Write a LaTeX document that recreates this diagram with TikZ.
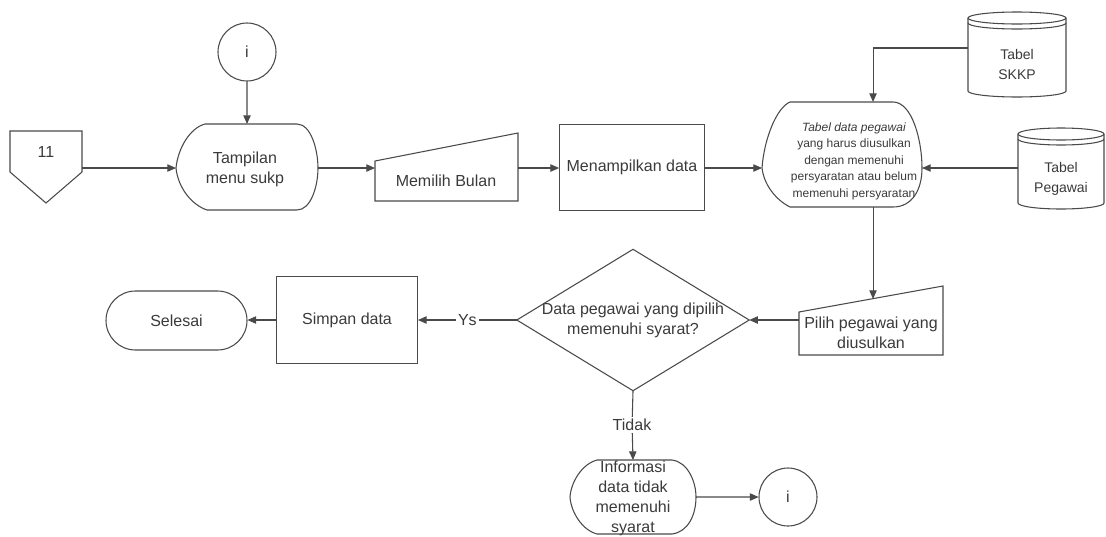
\documentclass[tikz,border=0pt]{standalone}
\usepackage{fontspec}
\setmainfont{Liberation Sans}
\usetikzlibrary{arrows.meta,shapes.misc}
\definecolor{InkGray}{HTML}{3A3A3A}
\definecolor{LineGray}{HTML}{4A4A4A}

\begin{document}
\begin{tikzpicture}[x=1pt, y=-1pt, scale=0.75,
    every node/.style={transform shape, text=InkGray},
    line/.style={draw=LineGray, line width=0.8pt},
    arr/.style={line, -{Triangle[length=6.5pt,width=5.5pt]}},
    txt/.style={align=center, inner sep=1pt, font=\fontsize{16}{20}\selectfont},
    smalltxt/.style={align=center, inner sep=1pt, font=\fontsize{14}{20}\selectfont},
    tinytxt/.style={align=center, inner sep=1pt, font=\fontsize{12}{16.5}\selectfont},
    conn/.style={txt, circle, line, minimum size=58},
    procbox/.style={txt, rectangle, line, minimum height=86},
    term/.style={txt, rounded rectangle, line, minimum width=143, minimum height=59}]
    \useasboundingbox (0,0) rectangle (1106,536);

    % Connectors i
    \node[conn] (i1) at (247,52) {i};
    \node[conn] (i2) at (788,497) {i};

    % Off-page 11
    \node[txt] (off) at (46,152) {11};
    \draw[line] (10,131) -- (82,131) -- (82,172) -- (46,203) -- (10,172) -- cycle;
    \coordinate (off-e) at (82,168);

    % Display: Tampilan menu sukp
    \node[txt] (tampil) at (245,169) {Tampilan\\menu sukp};
    \draw[line] (205,124) -- (297,124) .. controls (311,124) and (318,150) .. (318,168)
        .. controls (318,186) and (311,210) .. (297,210) -- (207,210)
        .. controls (192,205) and (178,188) .. (176,168)
        .. controls (178,148) and (190,128) .. (205,124) -- cycle;
    \coordinate (tampil-w) at (176,168);
    \coordinate (tampil-e) at (318,168);
    \coordinate (tampil-n) at (247,124);

    % Manual input: Memilih Bulan
    \node[txt] (memilih) at (446,181) {Memilih Bulan};
    \draw[line] (375,161) -- (518,133) -- (518,201) -- (375,201) -- cycle;
    \coordinate (memilih-w) at (375,168);
    \coordinate (memilih-e) at (518,168);

    % Process: Menampilkan data
    \node[procbox, minimum width=145] (tampilkan) at (632,167.5) {Menampilkan data};

    % Display: tabel data pegawai
    \node[tinytxt] (tabel) at (854,161) {\textit{Tabel data pegawai}\\yang harus diusulkan\\dengan memenuhi\\persyaratan atau belum\\memenuhi persyaratan};
    \draw[line] (790,102) -- (893,102) .. controls (912,102) and (922,140) .. (922,168)
        .. controls (922,190) and (912,207) .. (893,207) -- (790,207)
        .. controls (776,200) and (764,185) .. (762,168)
        .. controls (764,140) and (776,108) .. (790,102) -- cycle;
    \coordinate (tabel-w) at (762,168);
    \coordinate (tabel-e) at (922,168);
    \coordinate (tabel-n) at (873,102);
    \coordinate (tabel-s) at (873,207);

    % Database: Tabel SKKP
    \node[smalltxt] (skkp) at (1017,64) {Tabel\\SKKP};
    \draw[line] (1017,18) ellipse [x radius=49, y radius=6];
    \draw[line] (968,23) arc [start angle=180, end angle=0, x radius=49, y radius=6];
    \draw[line] (968,18) -- (968,91) arc [start angle=180, end angle=0, x radius=49, y radius=6] -- (1066,18);
    \coordinate (skkp-w) at (968,48);

    % Database: Tabel Pegawai
    \node[smalltxt] (pegawai) at (1061,179) {Tabel\\Pegawai};
    \draw[line] (1061,134) ellipse [x radius=43, y radius=6];
    \draw[line] (1018,139) arc [start angle=180, end angle=0, x radius=43, y radius=6];
    \draw[line] (1018,134) -- (1018,203) arc [start angle=180, end angle=0, x radius=43, y radius=6] -- (1104,134);
    \coordinate (pegawai-w) at (1018,168);

    % Manual input: Pilih pegawai
    \node[txt] (pilih) at (871,333) {Pilih pegawai yang\\diusulkan};
    \draw[line] (799,312) -- (943,286) -- (943,355) -- (799,355) -- cycle;
    \coordinate (pilih-w) at (799,320);
    \coordinate (pilih-n) at (873,299);

    % Decision
    \node[txt, minimum width=232, minimum height=141] (cek) at (633,320) {Data pegawai yang dipilih\\memenuhi syarat?};
    \draw[line] (cek.west) -- (cek.north) -- (cek.east) -- (cek.south) -- cycle;

    % Simpan and Selesai
    \node[procbox, minimum width=141, minimum height=87] (simpan) at (347,320) {Simpan data};
    \node[term] (selesai) at (176.5,320.5) {Selesai};

    % Display: Informasi
    \node[txt] (info) at (633,498) {Informasi\\data tidak\\memenuhi\\syarat};
    \draw[line] (597,460) -- (672,460) .. controls (688,462) and (696,482) .. (696,497)
        .. controls (696,515) and (688,532) .. (672,534) -- (597,534)
        .. controls (582,530) and (571,512) .. (570,497)
        .. controls (571,482) and (582,464) .. (597,460) -- cycle;
    \coordinate (info-n) at (633,460);
    \coordinate (info-e) at (696,497);

    % Flow
    \draw[arr] (i1) -- (tampil-n);
    \draw[arr] (off-e) -- (tampil-w);
    \draw[arr] (tampil-e) -- (memilih-w);
    \draw[arr] (memilih-e) -- (memilih-e -| tampilkan.west);
    \draw[arr] (tabel-w -| tampilkan.east) -- (tabel-w);
    \draw[arr] (skkp-w) -| (tabel-n);
    \draw[arr] (pegawai-w) -- (tabel-e);
    \draw[arr] (tabel-s) -- (pilih-n);
    \draw[arr] (pilih-w) -- (cek.east);
    \draw[arr] (cek.west) -- node[txt, fill=white, inner sep=2pt] (ys) {Ys} (simpan.east |- cek.west);
    \draw[arr] (simpan.west) -- (selesai.east |- simpan.west);
    \node[txt, inner sep=2pt] (tidak) at (632,425) {Tidak};
    \draw[line] (cek.south) -- (tidak);
    \draw[arr] (tidak) -- (info-n);
    \draw[arr] (info-e) -- (i2);
\end{tikzpicture}
\end{document}
